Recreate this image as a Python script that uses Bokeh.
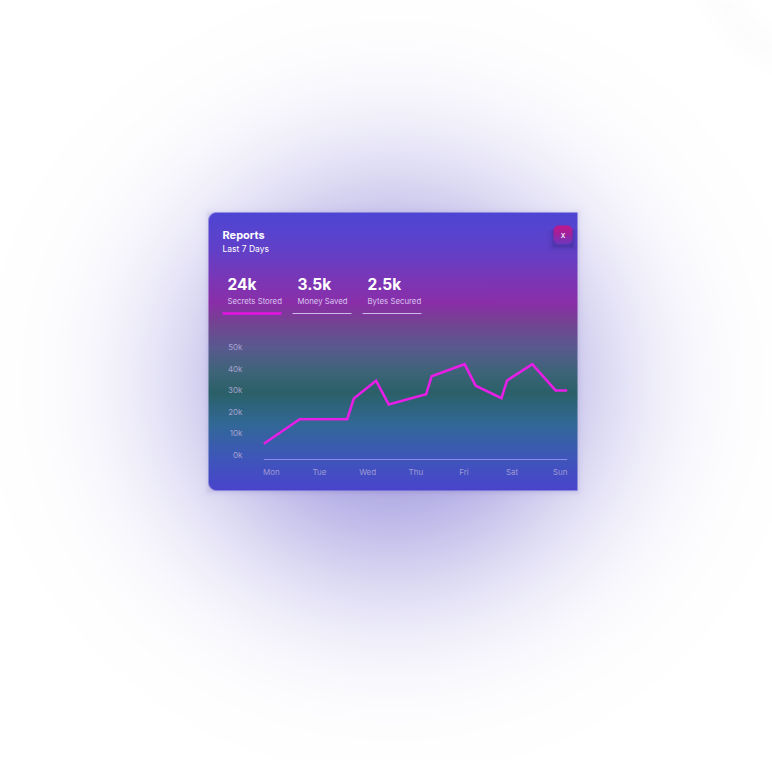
import numpy as np
from bokeh.plotting import figure
from bokeh.models import Range1d
from bokeh.core.properties import value
from bokeh.embed import file_html
from bokeh.resources import INLINE

# ---------------- data ----------------
days = ["Mon", "Tue", "Wed", "Thu", "Fri", "Sat", "Sun"]
series_x = [0, 0.71, 1.65, 1.78, 2.22, 2.47, 3.21, 3.32, 3.97, 4.19, 4.70, 4.81, 5.31, 5.77, 6.0]
series_y = [5000, 16400, 16400, 26000, 34300, 23300, 28000, 36400, 42000, 32000,
            26200, 34400, 42000, 29800, 29800]
y_ticks = [0, 10000, 20000, 30000, 40000, 50000]
y_tick_labels = ["0k", "10k", "20k", "30k", "40k", "50k"]
stat_values = ["24k", "3.5k", "2.5k"]
stat_labels = ["Secrets Stored", "Money Saved", "Bytes Secured"]

W, H = 772, 760
FONT = "Inter"

# ---------------- background composite image ----------------
yy, xx = np.mgrid[0:H, 0:W].astype(float)
yy += 0.5
xx += 0.5

def hex2rgb(h):
    h = h.lstrip("#")
    return np.array([int(h[i:i + 2], 16) for i in (0, 2, 4)], dtype=float)

img = np.full((H, W, 3), 255.0)

# radial glow
gc = hex2rgb("#a39cdf")
r = np.sqrt((xx - 392) ** 2 + ((yy - 380) * 1.03) ** 2)
f = np.exp(-(r / 214.0) ** 2.6)
img = img * (1 - f[..., None]) + gc * f[..., None]

# faint corner tint top-right
r2 = np.sqrt((xx - 820) ** 2 + (yy + 50) ** 2)
f2 = 0.03 * np.clip(1 - np.abs(r2 - 110) / 28.0, 0, 1)
img = img * (1 - f2[..., None]) + hex2rgb("#9a9aa8") * f2[..., None]

# card geometry
CX0, CY0, CX1, CY1, CR = 208, 212, 577, 490, 8

def rrect_alpha(x0, y0, x1, y1, rad, right_round=True):
    qx = np.maximum(x0 + rad - xx, 0)
    if right_round:
        qx = np.maximum(qx, xx - (x1 - rad))
    qy = np.maximum(np.maximum(y0 + rad - yy, yy - (y1 - rad)), 0)
    d = np.sqrt(qx ** 2 + qy ** 2)
    a = np.clip(rad - d + 0.5, 0, 1)
    a *= np.clip(xx - x0 + 0.5, 0, 1) * np.clip(x1 - xx + 0.5, 0, 1)
    a *= np.clip(yy - y0 + 0.5, 0, 1) * np.clip(y1 - yy + 0.5, 0, 1)
    return a

# soft card shadow
sd_x = np.maximum(np.maximum(CX0 - xx, xx - CX1), 0)
sd_y = np.maximum(np.maximum(CY0 + 1 - yy, yy - (CY1 + 1)), 0)
sd = np.sqrt(sd_x ** 2 + sd_y ** 2)
sh = 0.12 * np.exp(-sd / 2.5)
img = img * (1 - sh[..., None]) + hex2rgb("#3b2f9a") * sh[..., None]

# card vertical gradient
stops = [(212, "#4d46d4"), (250, "#6240c8"), (282, "#7d35b4"), (303, "#8a2ea8"),
         (322, "#744392"), (348, "#585a8e"), (372, "#3d6478"), (392, "#2b6068"),
         (425, "#326898"), (455, "#3d57b8"), (490, "#4a44cc")]
sy = np.array([s[0] for s in stops], dtype=float)
scol = np.array([hex2rgb(s[1]) for s in stops])
rows = np.arange(H) + 0.5
grad = np.stack([np.interp(rows, sy, scol[:, c]) for c in range(3)], axis=1)
card = np.broadcast_to(grad[:, None, :], (H, W, 3))
ca = rrect_alpha(CX0, CY0, CX1, CY1, CR, right_round=False)
img = img * (1 - ca[..., None]) + card * ca[..., None]

# close button shadow + body
BX0, BY0, BX1, BY1 = 553, 225, 572, 244
bsx = np.maximum(np.maximum(BX0 - xx, xx - BX1), 0)
bsy = np.maximum(np.maximum(BY0 + 3 - yy, yy - (BY1 + 2)), 0)
bsd = np.sqrt(bsx ** 2 + bsy ** 2)
bsh = 0.35 * np.exp(-bsd / 2.2) * (yy > BY0 + 4)
img = img * (1 - bsh[..., None]) + hex2rgb("#2a1e70") * bsh[..., None]
bstops = [(BY0, "#c2168a"), (BY0 + 9, "#9e229c"), (BY1, "#6a38c0")]
bgrad = np.stack([np.interp(rows, [s[0] for s in bstops],
                            [hex2rgb(s[1])[c] for s in bstops]) for c in range(3)], axis=1)
bcard = np.broadcast_to(bgrad[:, None, :], (H, W, 3))
ba = rrect_alpha(BX0, BY0, BX1, BY1, 5.5)
img = img * (1 - ba[..., None]) + bcard * ba[..., None]

rgba = np.empty((H, W), dtype=np.uint32)
view = rgba.view(dtype=np.uint8).reshape((H, W, 4))
view[..., :3] = np.clip(np.round(img), 0, 255).astype(np.uint8)
view[..., 3] = 255
rgba = np.flipud(rgba)

# ---------------- figure ----------------
p = figure(width=W, height=H, x_range=Range1d(0, W), y_range=Range1d(0, H),
           output_backend="svg", toolbar_location=None, min_border=0)
p.axis.visible = False
p.grid.visible = False
p.outline_line_color = None
p.background_fill_color = "white"
p.border_fill_color = "white"

p.image_rgba(image=[rgba], x=0, y=0, dw=W, dh=H)

def Y(py):
    return H - py

# chart ranges mapped to the plot box inside the card
PL, PR = 263.3, 566.7          # x pixels of first/last day
P0, P50 = 454.0, 346.5         # y pixels of 0 and 50k
xs = (PR - PL) / 6.0
p.extra_x_ranges = {"cx": Range1d(-PL / xs, (W - PL) / xs)}
ys = (P0 - P50) / 50000.0
p.extra_y_ranges = {"cy": Range1d((P0 - H) / ys, P0 / ys)}

# baseline
p.segment(x0=[0], x1=[6], y0=[Y(459)], y1=[Y(459)], x_range_name="cx",
          line_color="#8c8ce6", line_width=1.2)

# y tick labels
p.text(x=[242] * len(y_ticks), y=y_ticks, text=y_tick_labels, y_range_name="cy",
       text_font=value(FONT), text_font_size="8px", text_color="#a7a2d2",
       text_align="right", text_baseline="middle")

# day labels (spread edge to edge)
label_pos = [0.15 + i * 0.952 for i in range(len(days))]
p.text(x=label_pos, y=[Y(471)] * len(days), text=days, x_range_name="cx",
       text_font=value(FONT), text_font_size="8px", text_color="#9d9ad6",
       text_align="center", text_baseline="middle")

# line series
p.line(x=series_x, y=series_y, x_range_name="cx", y_range_name="cy",
       line_color="#e61ee6", line_width=2.6, line_join="miter")

# header texts
p.text(x=[222], y=[Y(234)], text=["Reports"], text_font=value(FONT),
       text_font_size="11px", text_font_style="bold", text_color="white",
       text_baseline="middle")
p.text(x=[222], y=[Y(248)], text=["Last 7 Days"], text_font=value(FONT),
       text_font_size="8.5px", text_color="white", text_baseline="middle")
p.text(x=[562.5], y=[Y(234)], text=["x"], text_font=value(FONT),
       text_font_size="8.5px", text_color="white", text_align="center",
       text_baseline="middle")

# stats
sx = [227, 297, 367]
p.text(x=sx, y=[Y(284)] * 3, text=stat_values, text_font=value(FONT),
       text_font_size="15.5px", text_font_style="bold", text_color="white",
       text_baseline="middle")
p.text(x=sx, y=[Y(300)] * 3, text=stat_labels, text_font=value(FONT),
       text_font_size="7.8px", text_color="#d6c4ee", text_baseline="middle")
p.segment(x0=[222], x1=[281], y0=[Y(313)], y1=[Y(313)],
          line_color="#e514e2", line_width=2.4)
p.segment(x0=[292, 362], x1=[351, 421], y0=[Y(313)] * 2, y1=[Y(313)] * 2,
          line_color="#cbb9ea", line_width=1.2)

open("out.html", "w").write(file_html(p, INLINE))
